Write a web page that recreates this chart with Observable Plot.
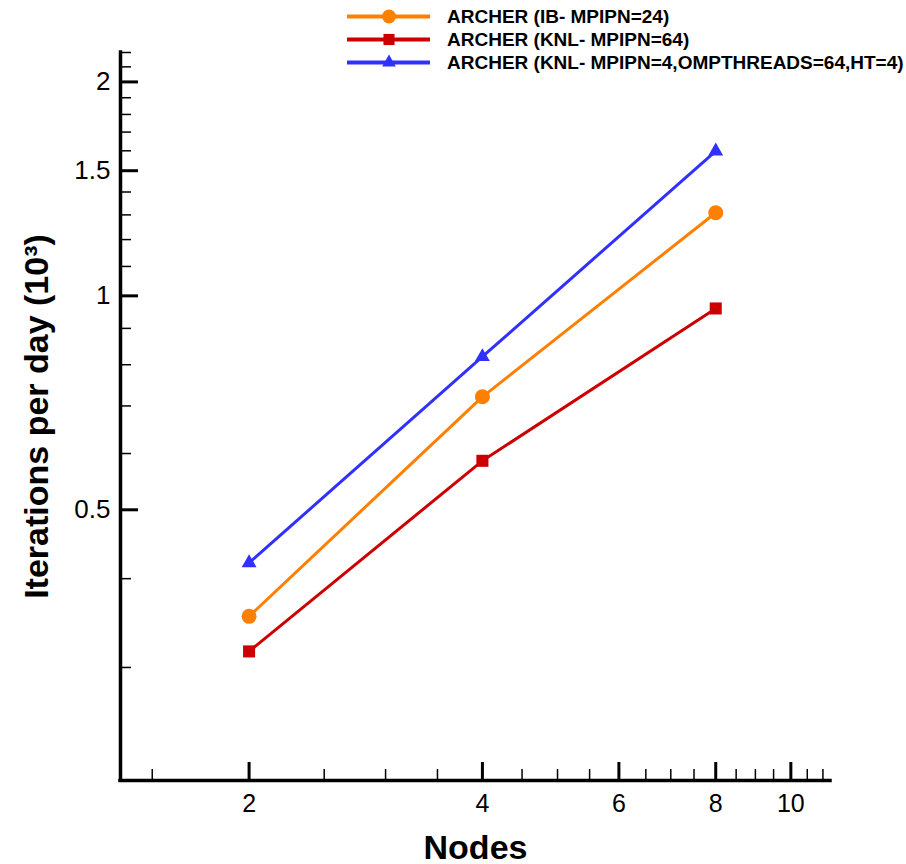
<!DOCTYPE html>
<html><head><meta charset="utf-8">
<script src="https://cdn.jsdelivr.net/npm/d3@7"></script>
<script src="https://cdn.jsdelivr.net/npm/@observablehq/plot@0.6"></script>
<style>
body{margin:0;background:#fff;font-family:"Liberation Sans",Arial,sans-serif;}
#wrap{position:relative;width:906px;height:864px;}
#legend{position:absolute;left:345px;top:5px;}
.row{display:flex;align-items:center;height:23px;white-space:nowrap;font-weight:bold;font-size:19px;color:#000;}
.row svg{margin-right:14px;}
</style></head><body><div id="wrap"><div id="legend"></div></div>
<script>
const nodes = [2, 4, 8];
const seriesNames = ["ARCHER (IB- MPIPN=24)", "ARCHER (KNL- MPIPN=64)", "ARCHER (KNL- MPIPN=4,OMPTHREADS=64,HT=4)"];
const ibValues = [0.354, 0.721, 1.309];
const knlValues = [0.316, 0.586, 0.960];
const knlHybridValues = [0.421, 0.821, 1.598];
const seriesColors = ["#ff8000", "#cc0000", "#3030ff"];
const seriesSymbols = ["circle", "square", "triangle"];
const seriesRadius = [7.5, 6.8, 5.5];
const xMajorTicks = [2, 4, 6, 8, 10];
const xMinorTicks = [1.5, 2.5, 3, 3.5, 4.5, 5, 5.5, 6.5, 7, 7.5, 8.5, 9, 9.5, 10.5, 11];
const yMajorTicks = [0.5, 1, 1.5, 2];
const yMinorTicks = [0.3, 0.4, 0.6, 0.7, 0.8, 0.9, 1.1, 1.2, 1.3, 1.4, 1.6, 1.7, 1.8, 1.9, 2.1, 2.2];
const xLabel = "Nodes";
const yLabel = "Iterations per day (10³)";

const seriesValues = [ibValues, knlValues, knlHybridValues];
const rows = seriesValues.flatMap((vals, s) => vals.map((v, i) => ({nodes: nodes[i], value: v, series: s})));

const W = 906, H = 864, mL = 120, mR = 76, mT = 52, mB = 84;
const innerW = W - mL - mR, innerH = H - mT - mB;
const xDomain = [1.365, 11.25], yDomain = [0.208, 2.2];

const seriesMarks = seriesValues.flatMap((vals, s) => {
  const data = rows.filter(d => d.series === s);
  return [
    Plot.line(data, {x: "nodes", y: "value", stroke: seriesColors[s], strokeWidth: 3}),
    Plot.dot(data, {x: "nodes", y: "value", fill: seriesColors[s], stroke: "none", symbol: seriesSymbols[s], r: seriesRadius[s]})
  ];
});

const chart = Plot.plot({
  width: W, height: H, marginLeft: mL, marginRight: mR, marginTop: mT, marginBottom: mB,
  style: {fontFamily: "'Liberation Sans', Arial, sans-serif", color: "#000", background: "#fff", overflow: "visible"},
  x: {type: "log", domain: xDomain},
  y: {type: "log", domain: yDomain},
  marks: [
    Plot.tickX(xMinorTicks, {x: d => d, insetTop: innerH - 11, strokeWidth: 1.5, stroke: "#000"}),
    Plot.tickX(xMajorTicks, {x: d => d, insetTop: innerH - 18, strokeWidth: 3, stroke: "#000"}),
    Plot.tickY(yMinorTicks, {y: d => d, insetRight: innerW - 11, strokeWidth: 1.5, stroke: "#000"}),
    Plot.tickY(yMajorTicks, {y: d => d, insetRight: innerW - 18, strokeWidth: 3, stroke: "#000"}),
    Plot.ruleX([xDomain[0]], {strokeWidth: 3.5, strokeLinecap: "square", stroke: "#000"}),
    Plot.ruleY([yDomain[0]], {strokeWidth: 3.5, strokeLinecap: "square", stroke: "#000"}),
    Plot.axisX(xMajorTicks, {tickSize: 0, tickPadding: 14, fontSize: 25, tickFormat: d => String(d), label: null}),
    Plot.axisY(yMajorTicks, {tickSize: 0, tickPadding: 10, fontSize: 26, tickFormat: d => String(d), label: null}),
    Plot.axisX([], {tickSize: 0, label: xLabel, labelAnchor: "center", labelArrow: "none", labelOffset: 78, fontSize: 34, fontWeight: "bold"}),
    Plot.axisY([], {tickSize: 0, label: yLabel, labelAnchor: "center", labelArrow: "none", labelOffset: 97, fontSize: 34, fontWeight: "bold"}),
    ...seriesMarks
  ]
});
document.getElementById("wrap").prepend(chart);

const legend = d3.select("#legend");
seriesNames.forEach((name, s) => {
  const row = legend.append("div").attr("class", "row");
  const svg = row.append("svg").attr("width", 88).attr("height", 23);
  svg.append("line").attr("x1", 2).attr("x2", 85).attr("y1", 11.5).attr("y2", 11.5)
    .attr("stroke", seriesColors[s]).attr("stroke-width", 4);
  const type = {circle: d3.symbolCircle, square: d3.symbolSquare, triangle: d3.symbolTriangle}[seriesSymbols[s]];
  svg.append("path").attr("transform", "translate(44,11.5)")
    .attr("d", d3.symbol(type, Math.PI * seriesRadius[s] * seriesRadius[s] * 0.85)())
    .attr("fill", seriesColors[s]);
  row.append("span").text(name);
});
</script>
</body></html>
